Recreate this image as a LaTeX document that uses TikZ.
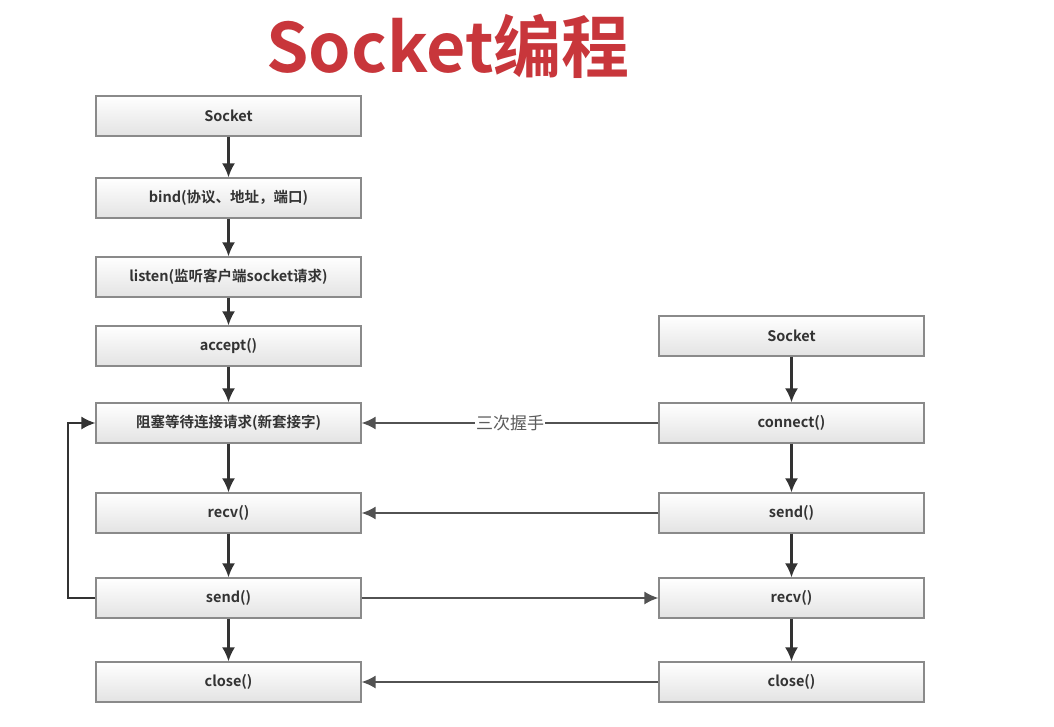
\documentclass[tikz,border=0pt]{standalone}
\usepackage{fontspec}
\setmainfont{Noto Sans CJK SC}[BoldFont={Noto Sans CJK SC Bold}]
\usetikzlibrary{arrows.meta,shadows}
\definecolor{tred}{HTML}{C8363B}
\definecolor{tdark}{HTML}{333333}
\definecolor{tborder}{HTML}{8A8A8A}
\tikzset{
  x=1pt,y=-1pt,
  flowbox/.style={draw=tborder,line width=1.2pt,top color=white,bottom color=black!11,
    minimum width=265pt,minimum height=40pt,inner sep=0pt,
    font=\fontsize{14.5}{16}\selectfont\bfseries,text=tdark,
    drop shadow={shadow xshift=1pt,shadow yshift=-1pt,opacity=0.25}},
  flow/.style={draw=tdark,line width=2.2pt,-{Latex[length=14pt,width=13pt]}},
  cross/.style={draw=tdark!85,line width=1.8pt,-{Latex[length=14pt,width=13pt]}},
}
\begin{document}
\begin{tikzpicture}
\useasboundingbox (0,0) rectangle (1054,727);
\fill[white] (0,0) rectangle (1054,727);
\node[font=\fontsize{68}{70}\selectfont\bfseries,text=tred] (title) at (448,46) {Socket编程};
% left column
\node[flowbox] (s1) at (228.5,116) {Socket};
\node[flowbox] (bind) at (228.5,198) {bind(协议、地址，端口)};
\node[flowbox] (listen) at (228.5,277) {listen(监听客户端socket请求)};
\node[flowbox] (accept) at (228.5,346) {accept()};
\node[flowbox] (block) at (228.5,423) {阻塞等待连接请求(新套接字)};
\node[flowbox] (recv1) at (228.5,513) {recv()};
\node[flowbox] (send1) at (228.5,598) {send()};
\node[flowbox] (close1) at (228.5,682) {close()};
% right column
\node[flowbox] (s2) at (791.5,336) {Socket};
\node[flowbox] (conn) at (791.5,423) {connect()};
\node[flowbox] (send2) at (791.5,513) {send()};
\node[flowbox] (recv2) at (791.5,598) {recv()};
\node[flowbox] (close2) at (791.5,682) {close()};
% vertical flow
\draw[flow] (s1) -- (bind);
\draw[flow] (bind) -- (listen);
\draw[flow] (listen) -- (accept);
\draw[flow] (accept) -- (block);
\draw[flow] (block) -- (recv1);
\draw[flow] (recv1) -- (send1);
\draw[flow] (send1) -- (close1);
\draw[flow] (s2) -- (conn);
\draw[flow] (conn) -- (send2);
\draw[flow] (send2) -- (recv2);
\draw[flow] (recv2) -- (close2);
% loop
\coordinate (lb) at (68,598);
\coordinate (lt) at (68,423);
\draw[flow,line width=1.8pt] (send1.west) -- (lb) -- (lt) -- (block.west);
% cross
\draw[cross] (conn.west) -- node[fill=white,inner sep=1pt,font=\fontsize{17}{19}\selectfont,text=tdark!80,pos=0.5]{三次握手} (block.east);
\draw[cross] (send2.west) -- (recv1.east);
\draw[cross] (send1.east) -- (recv2.west);
\draw[cross] (close2.west) -- (close1.east);
\end{tikzpicture}
\end{document}
